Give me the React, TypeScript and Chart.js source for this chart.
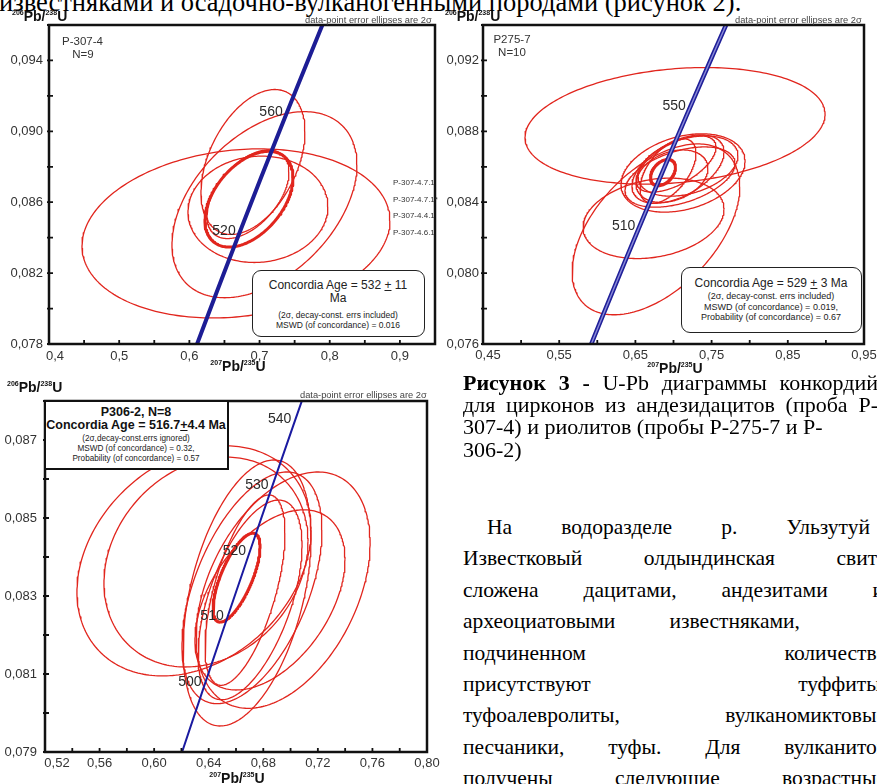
import React, { useEffect, useRef } from "react";
import { Chart, registerables } from "chart.js";

Chart.register(...registerables);

const SANS = '"Liberation Sans", Arial, Helvetica, sans-serif';
const SERIF = '"Liberation Serif", "Times New Roman", Times, serif';
const RED = "#e1251d";
const NAVY = "#1d1d95";

// Decay constants of 238U and 235U, 1/yr
const LAMBDA_238 = 1.55125e-10;
const LAMBDA_235 = 9.8485e-10;

// Ages (Ma) the concordia curve is traced through
const concordiaAges = [420, 430, 440, 450, 460, 470, 480, 490, 500, 510, 520, 530, 540, 550, 560, 570, 580, 590, 600, 610, 620, 630];

// ---------- P-307-4: 2σ ellipses (centre, half-width in x and y, error correlation) ----------
const p3074CenterX = [0.6906, 0.707, 0.6664, 0.6977, 0.6835];
const p3074CenterY = [0.08827, 0.08586, 0.08424, 0.0856, 0.08645];
const p3074ErrX = [0.0741, 0.1318, 0.2194, 0.0997, 0.0584];
const p3074ErrY = [0.00409, 0.00525, 0.00477, 0.003, 0.0025];
const p3074Rho = [0.42, 0.43, 0.15, 0.05, 0.5];
const p3074Concordia = [0.6849, 0.08617, 0.0627, 0.0027, 0.45];
const p3074AgeMarks = [520, 560];
const p3074Outside = ["P-307-4.7.1", "P-307-4.7.1*", "P-307-4.4.1", "P-307-4.6.1"];
const p3074XTicks = [0.4, 0.45, 0.5, 0.55, 0.6, 0.65, 0.7, 0.75, 0.8, 0.85, 0.9, 0.95];
const p3074XLabels = [0.4, 0.5, 0.6, 0.7, 0.8, 0.9];
const p3074YTicks = [0.078, 0.08, 0.082, 0.084, 0.086, 0.088, 0.09, 0.092, 0.094, 0.096];
const p3074YLabels = [0.078, 0.082, 0.086, 0.09, 0.094];

// ---------- P275-7 ----------
const p2757CenterX = [0.702, 0.677, 0.6738, 0.7125, 0.7059, 0.6928, 0.719, 0.698, 0.7033, 0.7085];
const p2757CenterY = [0.08831, 0.08247, 0.08309, 0.08565, 0.08587, 0.08576, 0.08604, 0.08547, 0.08616, 0.08542];
const p2757ErrX = [0.1969, 0.11, 0.0925, 0.0814, 0.0604, 0.0367, 0.0656, 0.0472, 0.0525, 0.0722];
const p2757ErrY = [0.00329, 0.00482, 0.00227, 0.00221, 0.00193, 0.00182, 0.0017, 0.00148, 0.00159, 0.0017];
const p2757Rho = [0.2, 0.5, 0.23, 0.3, 0.5, 0.55, 0.35, 0.3, 0.6, 0.45];
const p2757Concordia = [0.6862, 0.08567, 0.0164, 0.00074, 0.4];
const p2757AgeMarks = [510, 550];
const p2757XTicks = [0.45, 0.5, 0.55, 0.6, 0.65, 0.7, 0.75, 0.8, 0.85, 0.9, 0.95];
const p2757XLabels = [0.45, 0.55, 0.65, 0.75, 0.85, 0.95];
const p2757YTicks = [0.076, 0.078, 0.08, 0.082, 0.084, 0.086, 0.088, 0.09, 0.092, 0.094];
const p2757YLabels = [0.076, 0.08, 0.084, 0.088, 0.092];

// ---------- P306-2 ----------
const p3062CenterX = [0.6292, 0.638, 0.6681, 0.6717, 0.6945, 0.6703, 0.6849, 0.6666];
const p3062CenterY = [0.0839, 0.08387, 0.083077, 0.08321, 0.08315, 0.0829, 0.0829, 0.08315];
const p3062ErrX = [0.0858, 0.0748, 0.0469, 0.0513, 0.0638, 0.0381, 0.055, 0.0293];
const p3062ErrY = [0.00295, 0.00269, 0.00341, 0.00297, 0.00303, 0.00256, 0.00231, 0.00244];
const p3062Rho = [0.27, 0.2, 0.42, 0.5, 0.4, 0.55, 0.45, 0.6];
const p3062Concordia = [0.6604, 0.08347, 0.01722, 0.00114, 0.7];
const p3062AgeMarks = [500, 510, 520, 530, 540];
const p3062XTicks = [0.52, 0.54, 0.56, 0.58, 0.6, 0.62, 0.64, 0.66, 0.68, 0.7, 0.72, 0.74, 0.76, 0.78, 0.8];
const p3062XLabels = [0.52, 0.56, 0.6, 0.64, 0.68, 0.72, 0.76, 0.8];
const p3062YTicks = [0.079, 0.08, 0.081, 0.082, 0.083, 0.084, 0.085, 0.086, 0.087, 0.088];
const p3062YLabels = [0.079, 0.081, 0.083, 0.085, 0.087];

// ---------- page text ----------
const headLine = "известняками и осадочно-вулканогенными породами (рисунок 2).";
const captionBold = ["Рисунок", "3", "-"];
const captionLines = [
  ["U-Pb", "диаграммы", "конкордий"],
  ["для", "цирконов", "из", "андезидацитов", "(проба", "Р-"],
  ["307-4)", "и", "риолитов", "(пробы", "Р-275-7", "и", "Р-"],
  ["306-2)"],
];
const captionJustified = [true, true, false, false];
const bodyLines = [
  ["На", "водоразделе", "р.", "Ульзутуй"],
  ["Известковый", "олдындинская", "свита"],
  ["сложена", "дацитами,", "андезитами", "и"],
  ["археоциатовыми", "известняками,"],
  ["подчиненном", "количестве"],
  ["присутствуют", "туффиты,"],
  ["туфоалевролиты,", "вулканомиктовые"],
  ["песчаники,", "туфы.", "Для", "вулканитов"],
  ["получены", "следующие", "возрастные"],
];
const bodyRightEdges = [870, 887, 884, 800, 886, 886, 886, 887, 886];

const concordiaPoint = (age: number) => ({
  x: Math.exp(LAMBDA_235 * age * 1e6) - 1,
  y: Math.exp(LAMBDA_238 * age * 1e6) - 1,
});

// Outline of an error ellipse from its centre, half-widths and correlation
function ellipsePoints(cx: number, cy: number, ex: number, ey: number, rho: number) {
  const pts: { x: number; y: number }[] = [];
  const s = Math.sqrt(1 - rho * rho);
  const n = 240;
  for (let i = 0; i <= n; i++) {
    const t = (2 * Math.PI * i) / n;
    pts.push({ x: cx + ex * Math.cos(t), y: cy + ey * (rho * Math.cos(t) + s * Math.sin(t)) });
  }
  return pts;
}

const fmt = (v: number, d: number) => v.toFixed(d).replace(".", ",");

// Frame, inward tick marks, the nudged first x label and age marks along the concordia
const decorPlugin = {
  id: "decor",
  afterDatasetsDraw(chart: any, _args: any, opts: any) {
    const { ctx, chartArea: a, scales } = chart;
    const xs = scales.x;
    const ys = scales.y;
    ctx.save();
    ctx.font = `14px ${SANS}`;
    ctx.fillStyle = "#2a2a2a";
    ctx.textAlign = "right";
    ctx.textBaseline = "bottom";
    for (const age of opts.marks as number[]) {
      const p = concordiaPoint(age);
      ctx.fillText(String(age), xs.getPixelForValue(p.x) - 2, ys.getPixelForValue(p.y) + 1);
    }
    // first x label sits a little to the right of its tick
    const first = xs.ticks[0].value;
    ctx.font = `13px ${SANS}`;
    ctx.fillStyle = "#333";
    ctx.textAlign = "center";
    ctx.textBaseline = "middle";
    ctx.fillText(fmt(first, opts.xDec), xs.getPixelForValue(first) + opts.firstShift, a.bottom + opts.xPad + 7);

    ctx.strokeStyle = "#111";
    ctx.lineWidth = 2.5;
    ctx.strokeRect(a.left, a.top, a.right - a.left, a.bottom - a.top);
    ctx.lineWidth = 1.8;
    ctx.beginPath();
    for (const t of xs.ticks) {
      const p = xs.getPixelForValue(t.value);
      ctx.moveTo(p, a.bottom + 1);
      ctx.lineTo(p, a.bottom - 4);
    }
    for (const t of ys.ticks) {
      const p = ys.getPixelForValue(t.value);
      ctx.moveTo(a.left - 2, p);
      ctx.lineTo(a.left + 4, p);
    }
    ctx.stroke();
    ctx.restore();
  },
};

type Sample = {
  cx: number[]; cy: number[]; ex: number[]; ey: number[]; rho: number[];
  mean: number[]; marks: number[];
  xTicks: number[]; xLabels: number[]; yTicks: number[]; yLabels: number[];
  xDec: number; yDec: number;
};

type Frame = {
  left: number; top: number; w: number; h: number;
  pad: { left: number; top: number; right: number; bottom: number };
  yWidth: number; xHeight: number; xPad: number; yPad: number; firstShift: number;
  lines: { color: string; width: number }[];
};

function axis(kind: "x" | "y", ticks: number[], labels: number[], dec: number, size: number, pad: number) {
  return {
    type: "linear",
    min: ticks[0],
    max: ticks[ticks.length - 1],
    afterBuildTicks: (sc: any) => {
      sc.ticks = ticks.map((v) => ({ value: v }));
    },
    afterFit: (sc: any) => {
      if (kind === "x") {
        sc.height = size;
        sc.paddingLeft = 0;
        sc.paddingRight = 0;
      } else {
        sc.width = size;
        sc.paddingTop = 0;
        sc.paddingBottom = 0;
      }
    },
    grid: { display: false, drawTicks: false },
    border: { display: false },
    ticks: {
      autoSkip: false,
      maxRotation: 0,
      minRotation: 0,
      padding: pad,
      color: "#333",
      font: { family: SANS, size: 13 },
      callback: (v: number, i: number) => {
        if (kind === "x" && i === 0) return "";
        return labels.some((l) => Math.abs(l - v) < 1e-9) ? fmt(v, dec) : "";
      },
    },
  };
}

function ConcordiaPlot({ s, f }: { s: Sample; f: Frame }) {
  const ref = useRef<HTMLCanvasElement>(null);
  useEffect(() => {
    const base = { showLine: true, pointRadius: 0, fill: false, tension: 0, borderJoinStyle: "round" };
    const datasets: any[] = s.cx.map((cx, i) => ({
      ...base,
      data: ellipsePoints(cx, s.cy[i], s.ex[i], s.ey[i], s.rho[i]),
      borderColor: RED,
      borderWidth: 1.3,
      order: 3,
    }));
    datasets.push({
      ...base,
      data: ellipsePoints(s.mean[0], s.mean[1], s.mean[2], s.mean[3], s.mean[4]),
      borderColor: RED,
      borderWidth: 3,
      order: 2,
    });
    const curve = concordiaAges.map(concordiaPoint);
    f.lines.forEach((l, i) => {
      datasets.push({ ...base, data: curve, borderColor: l.color, borderWidth: l.width, order: 1 - i });
    });
    const chart = new Chart(ref.current as HTMLCanvasElement, {
      type: "scatter",
      data: { datasets },
      options: {
        responsive: false,
        animation: false,
        events: [],
        layout: { padding: f.pad },
        plugins: {
          legend: { display: false },
          tooltip: { enabled: false },
          decor: { marks: s.marks, xDec: s.xDec, xPad: f.xPad, firstShift: f.firstShift },
        } as any,
        scales: {
          x: axis("x", s.xTicks, s.xLabels, s.xDec, f.xHeight, f.xPad) as any,
          y: axis("y", s.yTicks, s.yLabels, s.yDec, f.yWidth, f.yPad) as any,
        },
      },
      plugins: [decorPlugin as any],
    });
    return () => chart.destroy();
  }, [s, f]);
  return (
    <canvas
      ref={ref}
      width={f.w}
      height={f.h}
      style={{ position: "absolute", left: f.left, top: f.top, width: f.w, height: f.h }}
    />
  );
}

const samples: Record<string, Sample> = {
  p3074: {
    cx: p3074CenterX, cy: p3074CenterY, ex: p3074ErrX, ey: p3074ErrY, rho: p3074Rho,
    mean: p3074Concordia, marks: p3074AgeMarks,
    xTicks: p3074XTicks, xLabels: p3074XLabels, yTicks: p3074YTicks, yLabels: p3074YLabels, xDec: 1, yDec: 3,
  },
  p2757: {
    cx: p2757CenterX, cy: p2757CenterY, ex: p2757ErrX, ey: p2757ErrY, rho: p2757Rho,
    mean: p2757Concordia, marks: p2757AgeMarks,
    xTicks: p2757XTicks, xLabels: p2757XLabels, yTicks: p2757YTicks, yLabels: p2757YLabels, xDec: 2, yDec: 3,
  },
  p3062: {
    cx: p3062CenterX, cy: p3062CenterY, ex: p3062ErrX, ey: p3062ErrY, rho: p3062Rho,
    mean: p3062Concordia, marks: p3062AgeMarks,
    xTicks: p3062XTicks, xLabels: p3062XLabels, yTicks: p3062YTicks, yLabels: p3062YLabels, xDec: 2, yDec: 3,
  },
};

const frames: Record<string, Frame> = {
  p3074: {
    left: 0, top: 0, w: 440, h: 372,
    pad: { left: 0, top: 25, right: 5, bottom: 0 },
    yWidth: 49, xHeight: 28, xPad: 5, yPad: 6, firstShift: 6,
    lines: [{ color: NAVY, width: 4 }],
  },
  p2757: {
    left: 440, top: 0, w: 437, h: 372,
    pad: { left: 0, top: 25, right: 13, bottom: 0 },
    yWidth: 43, xHeight: 28, xPad: 4, yPad: 4, firstShift: 5,
    lines: [{ color: "#1f1f99", width: 4.5 }, { color: "#8a8ad8", width: 1.4 }],
  },
  p3062: {
    left: 0, top: 372, w: 440, h: 412,
    pad: { left: 0, top: 29, right: 13, bottom: 0 },
    yWidth: 45, xHeight: 32, xPad: 4, yPad: 8, firstShift: 12,
    lines: [{ color: "#1a1aa0", width: 2 }],
  },
};

type TProps = {
  x: number; cy: number; size: number; align?: "left" | "center" | "right";
  bold?: boolean; color?: string; children: React.ReactNode;
};

function T({ x, cy, size, align = "left", bold, color = "#222", children }: TProps) {
  const shift = align === "center" ? "-50%" : align === "right" ? "-100%" : "0";
  return (
    <div
      style={{
        position: "absolute", left: x, top: cy - 0.52 * size, fontFamily: SANS, fontSize: size,
        lineHeight: 1, fontWeight: bold ? 700 : 400, color, whiteSpace: "nowrap",
        transform: `translateX(${shift})`,
      }}
    >
      {children}
    </div>
  );
}

function Ratio({ a, el1, b, el2 }: { a: string; el1: string; b: string; el2: string }) {
  const sup: React.CSSProperties = { fontSize: "0.5em", position: "relative", top: "-0.8em" };
  return (
    <>
      <span style={sup}>{a}</span>
      {el1}/<span style={sup}>{b}</span>
      {el2}
    </>
  );
}

const PM = () => <span style={{ textDecoration: "underline" }}>+</span>;

const serifTop = (base: number, size: number) => base - 0.8375 * size;

// One line of serif text; justified lines spread their words between left and right
function SerifLine({ left, right, base, size, words, bold = [] }: { left: number; right?: number; base: number; size: number; words: string[]; bold?: string[] }) {
  const all = [...bold.map((w) => ({ w, b: true })), ...words.map((w) => ({ w, b: false }))];
  const common: React.CSSProperties = {
    position: "absolute", left, top: serifTop(base, size), fontFamily: SERIF, fontSize: size,
    lineHeight: 1, whiteSpace: "nowrap", color: "#000",
  };
  if (right !== undefined) {
    return (
      <div style={{ ...common, width: right - left, display: "flex", justifyContent: "space-between" }}>
        {all.map((it, j) => (
          <span key={j} style={{ fontWeight: it.b ? 700 : 400 }}>{it.w}</span>
        ))}
      </div>
    );
  }
  return <div style={common}>{all.map((it) => it.w).join(" ")}</div>;
}

export default function App() {
  const box: React.CSSProperties = { position: "absolute", background: "#fff", boxSizing: "border-box" };
  return (
    <div style={{ position: "absolute", left: 0, top: 0, width: 877, height: 784, overflow: "hidden", background: "#fff" }}>
      <div style={{ position: "absolute", left: -1, top: serifTop(11.5, 26.5), fontFamily: SERIF, fontSize: 26.5, lineHeight: 1, whiteSpace: "nowrap", color: "#000" }}>
        {headLine}
      </div>

      <ConcordiaPlot s={samples.p3074} f={frames.p3074} />
      <ConcordiaPlot s={samples.p2757} f={frames.p2757} />
      <ConcordiaPlot s={samples.p3062} f={frames.p3062} />

      {/* P-307-4 */}
      <T x={12} cy={16} size={14} bold color="#111"><Ratio a="206" el1="Pb" b="238" el2="U" /></T>
      <T x={305} cy={21} size={9.3} color="#444">data-point error ellipses are 2σ</T>
      <T x={62} cy={42} size={11.5} color="#333">P-307-4</T>
      <T x={83} cy={55} size={11.5} color="#333" align="center">N=9</T>
      {p3074Outside.map((name, i) => (
        <T key={name} x={393} cy={183 + i * 16.7} size={8} color="#333">{name}</T>
      ))}
      <div style={{ ...box, left: 252, top: 270, width: 173, height: 67, border: "1.5px solid #222", borderRadius: 9 }} />
      <T x={338} cy={285} size={12} align="center">Concordia Age = 532 <PM /> 11</T>
      <T x={338} cy={298} size={12} align="center">Ma</T>
      <T x={338} cy={315} size={8.5} align="center">(2σ, decay-const. errs included)</T>
      <T x={338} cy={325} size={8.5} align="center">MSWD (of concordance) = 0.016</T>
      <T x={238} cy={366} size={14} bold color="#111" align="center"><Ratio a="207" el1="Pb" b="235" el2="U" /></T>

      {/* P275-7 */}
      <T x={445} cy={16} size={14} bold color="#111"><Ratio a="206" el1="Pb" b="238" el2="U" /></T>
      <T x={735} cy={21} size={9.3} color="#444">data-point error ellipses are 2σ</T>
      <T x={512} cy={40} size={11.5} color="#333" align="center">P275-7</T>
      <T x={512} cy={53} size={11.5} color="#333" align="center">N=10</T>
      <div style={{ ...box, left: 681, top: 267, width: 181, height: 66, border: "1.5px solid #222", borderRadius: 9 }} />
      <T x={771} cy={283} size={12} align="center">Concordia Age = 529 <PM /> 3 Ma</T>
      <T x={771} cy={297} size={9} align="center">(2σ, decay-const. errs included)</T>
      <T x={771} cy={308} size={9} align="center">MSWD (of concordance) = 0.019,</T>
      <T x={771} cy={318} size={9} align="center">Probability (of concordance) = 0.67</T>
      <T x={675} cy={368} size={14} bold color="#111" align="center"><Ratio a="207" el1="Pb" b="235" el2="U" /></T>

      {/* P306-2 */}
      <T x={7} cy={387} size={14} bold color="#111"><Ratio a="206" el1="Pb" b="238" el2="U" /></T>
      <T x={300} cy={396} size={9.3} color="#444">data-point error ellipses are 2σ</T>
      <div style={{ ...box, left: 44, top: 400, width: 185, height: 70, border: "2.5px solid #111" }} />
      <T x={136} cy={412} size={12.5} bold align="center" color="#111">P306-2, N=8</T>
      <T x={136} cy={425} size={12.5} bold align="center" color="#111">Concordia Age = 516.7<PM />4.4 Ma</T>
      <T x={136} cy={439} size={8.2} align="center">(2σ,decay-const.errs ignored)</T>
      <T x={136} cy={449} size={8.2} align="center">MSWD (of concordance) = 0.32,</T>
      <T x={136} cy={459} size={8.2} align="center">Probability (of concordance) = 0.57</T>
      <T x={237} cy={778} size={14} bold color="#111" align="center"><Ratio a="207" el1="Pb" b="235" el2="U" /></T>

      {/* figure caption */}
      {captionLines.map((words, i) => (
        <SerifLine
          key={i}
          left={463}
          right={captionJustified[i] ? 878 : undefined}
          base={390 + i * 22.4}
          size={22}
          words={words}
          bold={i === 0 ? captionBold : []}
        />
      ))}

      {/* body text, justified */}
      {bodyLines.map((words, i) => (
        <SerifLine key={i} left={i === 0 ? 487 : 463} right={bodyRightEdges[i]} base={535 + i * 31.4} size={21.5} words={words} />
      ))}
    </div>
  );
}
